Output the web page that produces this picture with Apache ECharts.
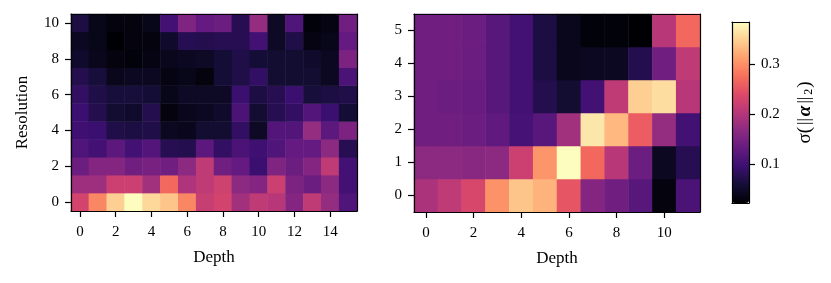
<!DOCTYPE html>
<html>
<head>
<meta charset="utf-8">
<script src="https://cdn.jsdelivr.net/npm/echarts@6/dist/echarts.min.js"></script>
<style>html,body{margin:0;padding:0;background:#fff;}#c{width:831px;height:283px;}</style>
</head>
<body>
<div id="c"></div>
<script>
// Left panel: depth 0..15 (columns), resolution 0..10 (rows, listed from 0 upward)
var leftDepths = ['0','1','2','3','4','5','6','7','8','9','10','11','12','13','14','15'];
var leftResolutions = ['0','1','2','3','4','5','6','7','8','9','10'];
var leftRows = [
  [0.229,0.294,0.349,0.385,0.356,0.341,0.294,0.218,0.229,0.185,0.211,0.204,0.160,0.211,0.174,0.113], // res 0
  [0.182,0.182,0.222,0.222,0.185,0.269,0.196,0.211,0.225,0.167,0.160,0.222,0.153,0.138,0.167,0.102], // res 1
  [0.138,0.160,0.160,0.142,0.149,0.142,0.167,0.211,0.142,0.131,0.095,0.156,0.138,0.160,0.211,0.102], // res 2
  [0.113,0.102,0.124,0.102,0.116,0.076,0.073,0.124,0.087,0.109,0.098,0.113,0.131,0.131,0.167,0.076], // res 3
  [0.098,0.095,0.069,0.066,0.069,0.044,0.040,0.055,0.055,0.087,0.047,0.116,0.116,0.174,0.124,0.153], // res 4
  [0.095,0.073,0.055,0.051,0.073,0.029,0.040,0.044,0.051,0.109,0.055,0.076,0.087,0.116,0.095,0.058], // res 5
  [0.087,0.069,0.062,0.062,0.058,0.037,0.047,0.047,0.047,0.095,0.066,0.076,0.095,0.062,0.066,0.069], // res 6
  [0.073,0.062,0.040,0.044,0.044,0.033,0.037,0.029,0.058,0.069,0.087,0.055,0.055,0.055,0.044,0.109], // res 7
  [0.051,0.040,0.029,0.026,0.033,0.040,0.044,0.047,0.058,0.069,0.058,0.055,0.055,0.051,0.044,0.153], // res 8
  [0.044,0.037,0.022,0.029,0.029,0.051,0.076,0.073,0.076,0.076,0.102,0.047,0.069,0.033,0.037,0.131], // res 9
  [0.066,0.037,0.029,0.029,0.037,0.102,0.156,0.131,0.138,0.076,0.174,0.047,0.113,0.026,0.033,0.142]  // res 10
];
// Right panel: depth 0..11, resolution 0..5
var rightDepths = ['0','1','2','3','4','5','6','7','8','9','10','11'];
var rightResolutions = ['0','1','2','3','4','5'];
var rightRows = [
  [0.193,0.211,0.233,0.302,0.341,0.327,0.251,0.160,0.142,0.120,0.029,0.109], // res 0
  [0.167,0.167,0.164,0.167,0.222,0.305,0.385,0.269,0.204,0.138,0.044,0.076], // res 1
  [0.142,0.142,0.138,0.127,0.105,0.120,0.185,0.367,0.331,0.258,0.174,0.102], // res 2
  [0.142,0.138,0.135,0.120,0.102,0.073,0.055,0.102,0.211,0.349,0.360,0.204], // res 3
  [0.142,0.142,0.138,0.120,0.102,0.066,0.040,0.044,0.044,0.073,0.142,0.211], // res 4
  [0.142,0.142,0.138,0.120,0.102,0.066,0.040,0.026,0.026,0.022,0.204,0.269]  // res 5
];
var colorMin = 0.022, colorMax = 0.385;
var colorbarTicks = [0.1, 0.2, 0.3];
var magma = ['#000004','#140e36','#3b0f70','#641a80','#8c2981','#b73779','#de4968','#f7705c','#fe9f6d','#fecf92','#fcfdbf'];

function toData(rows){
  var d = [];
  for (var y = 0; y < rows.length; y++)
    for (var x = 0; x < rows[y].length; x++) d.push([x, y, rows[y][x]]);
  return d;
}
var FONT = 'Liberation Serif';
var lab = {color:'#000', fontFamily:FONT, fontSize:15};
var nameStyle = {color:'#000', fontFamily:FONT, fontSize:17};
var lineStyle = {color:'#000', width:1.2};

function frameAxis(type, gridIndex, pos, data){
  var a = {type: type, gridIndex: gridIndex, position: pos, z: 10,
    axisLine:{show:true, onZero:false, lineStyle:lineStyle},
    axisTick:{show:false}, axisLabel:{show:false}, splitLine:{show:false}};
  if (type === 'category') { a.data = data; } else { a.min = colorMin; a.max = colorMax; }
  return a;
}
function mainAxis(gridIndex, pos, data, interval, name, nameGap){
  return {type:'category', gridIndex:gridIndex, position:pos, data:data, z:10,
    name:name, nameLocation:'middle', nameGap:nameGap, nameTextStyle:nameStyle,
    nameRotate: (pos === 'left') ? 90 : 0,
    axisLine:{show:true, onZero:false, lineStyle:lineStyle},
    axisTick:{show:true, interval:interval, alignWithLabel:true, length:6, lineStyle:lineStyle},
    axisLabel:Object.assign({interval:interval, margin: pos==='left'?12:14}, lab),
    splitLine:{show:false}, splitArea:{show:false}};
}

var chart = echarts.init(document.getElementById('c'), null, {renderer:'canvas'});
chart.setOption({
  animation:false,
  backgroundColor:'#fff',
  grid:[
    {left:71, top:14, width:286, height:197},
    {left:414, top:14, width:286, height:198},
    {left:732, top:22, width:17, height:181}
  ],
  xAxis:[
    mainAxis(0,'bottom',leftDepths,1,'Depth',38),
    frameAxis('category',0,'top',leftDepths),
    mainAxis(1,'bottom',rightDepths,1,'Depth',38),
    frameAxis('category',1,'top',rightDepths),
    frameAxis('category',2,'bottom',['']),
    frameAxis('category',2,'top',[''])
  ],
  yAxis:[
    mainAxis(0,'left',leftResolutions,1,'Resolution',40),
    frameAxis('category',0,'right',leftResolutions),
    mainAxis(1,'left',rightResolutions,0,'',0),
    frameAxis('category',1,'right',rightResolutions),
    frameAxis('value',2,'left'),
    {type:'value', gridIndex:2, position:'right', min:colorMin, max:colorMax, z:10,
      name:'{a|σ(}{n|||}{b|α}{n|||}{s|2}{a|)}', nameLocation:'middle', nameRotate:90, nameGap:46,
      nameTextStyle:{color:'#000', fontFamily:FONT, fontSize:19,
        rich:{a:{fontFamily:FONT, fontSize:19, color:'#000'},
              n:{fontFamily:FONT, fontSize:17, color:'#000', padding:[0,2,0,2]},
              b:{fontFamily:FONT, fontSize:19, color:'#000', fontWeight:'bold', fontStyle:'italic'},
              s:{fontFamily:FONT, fontSize:12, color:'#000', verticalAlign:'bottom', padding:[8,1,0,0]}}},
      axisLine:{show:true, lineStyle:lineStyle},
      axisTick:{show:true, length:6, customValues:colorbarTicks, lineStyle:lineStyle},
      axisLabel:Object.assign({customValues:colorbarTicks, margin:12, formatter:function(v){return v.toFixed(1);}}, lab),
      splitLine:{show:false}}
  ],
  visualMap:{
    type:'continuous', min:colorMin, max:colorMax, seriesIndex:[0,1], dimension:2,
    show:true, calculable:false, orient:'vertical', left:732, top:22, padding:0,
    itemWidth:17, itemHeight:181, text:null, showLabel:false, hoverLink:false,
    inRange:{color:magma}
  },
  series:[
    {type:'heatmap', xAxisIndex:0, yAxisIndex:0, data:toData(leftRows),
      itemStyle:{borderWidth:0}, emphasis:{disabled:true}, progressive:0},
    {type:'heatmap', xAxisIndex:2, yAxisIndex:2, data:toData(rightRows),
      itemStyle:{borderWidth:0}, emphasis:{disabled:true}, progressive:0}
  ]
});
</script>
</body>
</html>
